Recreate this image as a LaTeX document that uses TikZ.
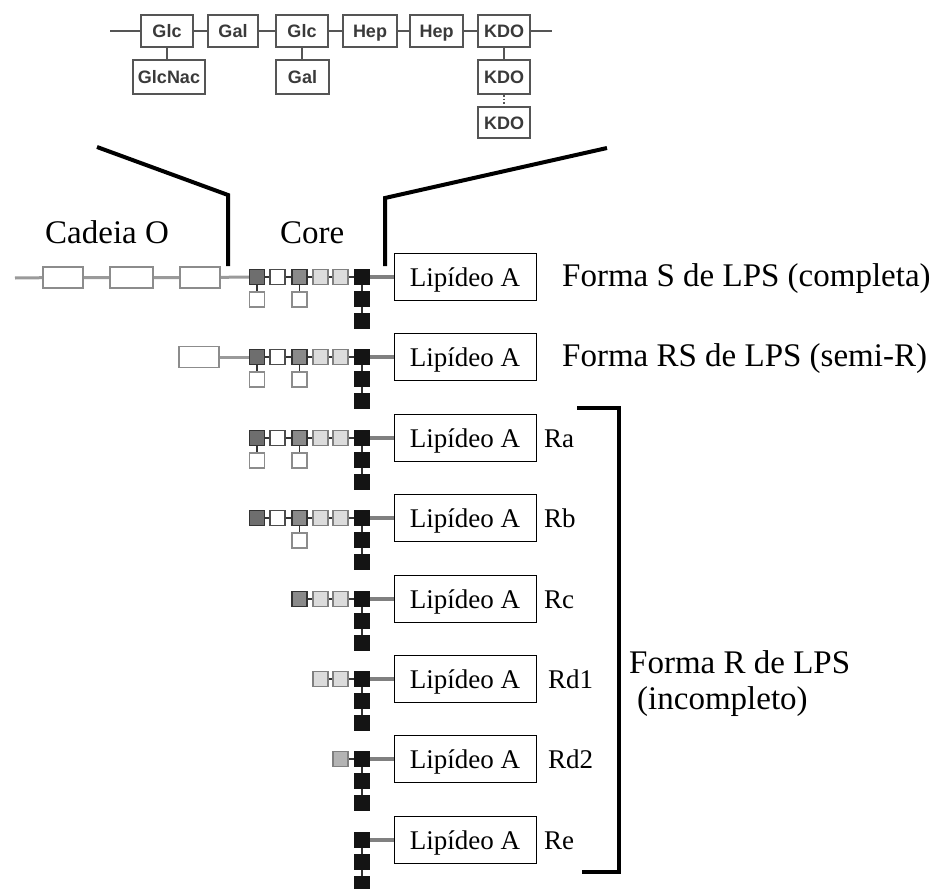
\documentclass[tikz,border=0pt]{standalone}
\usepackage{fontspec}
\setmainfont{Liberation Serif}
\newfontfamily\hsans{Liberation Sans}
\usetikzlibrary{backgrounds}
\definecolor{tgray}{HTML}{555555}
\definecolor{ttext}{HTML}{3A3A3A}
\definecolor{ogray}{HTML}{8C8C8C}
\definecolor{lgray}{HTML}{9A9A9A}
\definecolor{sqdark}{HTML}{6E6E6E}
\definecolor{sqmid}{HTML}{8A8A8A}
\definecolor{sqlight}{HTML}{DCDCDC}
\definecolor{sqlighttwo}{HTML}{B4B4B4}
\definecolor{sqblack}{HTML}{141414}
\def\sqfull{1/257/sqdark/black!80, 2/277.5/white/black!70, 3/299.5/sqmid/black!80, 4/320.5/sqlight/black!50, 5/340.5/sqlight/black!50, 6/362/sqblack/sqblack}
\def\sqc{3/299.5/sqmid/black!80, 4/320.5/sqlight/black!50, 5/340.5/sqlight/black!50, 6/362/sqblack/sqblack}
\def\sqd{4/320.5/sqlight/black!50, 5/340.5/sqlight/black!50, 6/362/sqblack/sqblack}
\def\sqdd{5/340.5/sqlighttwo/black!50, 6/362/sqblack/sqblack}
\def\sqe{6/362/sqblack/sqblack}
\newcommand\corerow[4]{%
  \foreach \i/\xx/\fc/\dc in #3{\node[sq,fill=\fc,draw=\dc] (#1s\i) at (\xx,#2) {};}
  \node[sq,fill=sqblack,draw=sqblack] (#1bone) at (362,#2+22) {};
  \node[sq,fill=sqblack,draw=sqblack] (#1btwo) at (362,#2+44) {};
  \begin{scope}[on background layer]
    \draw[clink] (#1s#4) -- (#1s6);
    \draw[clink] (#1s6) -- (#1btwo);
  \end{scope}
}
\begin{document}
\begin{tikzpicture}[x=1pt,y=-1pt,
 topbox/.style={draw=tgray,line width=1.8pt,fill=white,inner sep=0pt,minimum height=32pt,text height=13pt,text depth=0pt,font=\hsans\bfseries\fontsize{18}{18}\selectfont,text=ttext},
 topline/.style={draw=tgray,line width=1.8pt},
 bigline/.style={draw=black,line width=4pt},
 lab/.style={font=\fontsize{33}{36}\selectfont,inner sep=0pt,anchor=base west},
 rlab/.style={font=\fontsize{27}{30}\selectfont,inner sep=0pt,anchor=base west},
 lipbox/.style={draw=black,line width=0.9pt,fill=white,minimum width=142pt,minimum height=47pt,inner sep=0pt,text height=20pt,text depth=1pt,font=\fontsize{27}{30}\selectfont},
 obox/.style={draw=ogray,line width=1.8pt,fill=white,minimum width=40pt,minimum height=21pt,inner sep=0pt},
 olink/.style={draw=lgray,line width=3pt},
 sq/.style={minimum size=15pt,inner sep=0pt,line width=1.2pt},
 usq/.style={sq,fill=white,draw=ogray},
 clink/.style={draw=black!80,line width=1.3pt},
 lipl/.style={draw=black!50,line width=3.2pt},
 bracket/.style={draw=black,line width=4.5pt,line join=miter}
]
\begin{scope}[on background layer]
\fill[white] (0,0) rectangle (936,888);
\end{scope}
\useasboundingbox (0,0) rectangle (936,888);

% ---------- top structure ----------
\coordinate (tl) at (110,31);
\coordinate (tr) at (552,31);
\node[topbox,minimum width=52pt] (glc1) at (167,31) {Glc};
\node[topbox,minimum width=50pt] (gal1) at (233,31) {Gal};
\node[topbox,minimum width=52pt] (glc2) at (302,31) {Glc};
\node[topbox,minimum width=54pt] (hep1) at (370,31) {Hep};
\node[topbox,minimum width=53pt] (hep2) at (436.5,31) {Hep};
\node[topbox,minimum width=52pt] (kdo1) at (504,31) {KDO};
\node[topbox,minimum width=72pt,minimum height=34pt] (glcnac) at (169,77) {GlcNac};
\node[topbox,minimum width=53pt,minimum height=34pt] (gal2) at (302.5,77) {Gal};
\node[topbox,minimum width=52pt,minimum height=34pt] (kdo2) at (504,77) {KDO};
\node[topbox,minimum width=52pt,minimum height=31pt] (kdo3) at (504,122.5) {KDO};
\begin{scope}[on background layer]
  \draw[topline] (tl) -- (glc1) -- (gal1) -- (glc2) -- (hep1) -- (hep2) -- (kdo1) -- (tr);
  \draw[topline] (glc1) -- (glc1 |- glcnac.north);
  \draw[topline] (glc2) -- (glc2 |- gal2.north);
  \draw[topline] (kdo1) -- (kdo2);
  \draw[topline,dotted,line width=1.2pt] (kdo2) -- (kdo3);
\end{scope}

% ---------- expansion lines ----------
\coordinate (la) at (97,147);
\coordinate (lb) at (228,195);
\coordinate (lc) at (228,266);
\coordinate (ra) at (607,148);
\coordinate (rb) at (385,198);
\coordinate (rc) at (385,266);
\draw[bigline] (la) -- (lb) -- (lc);
\draw[bigline] (ra) -- (rb) -- (rc);

\node[lab] (cadeia) at (45,243) {Cadeia O};
\node[lab] (core) at (280,243) {Core};

% ---------- core rows ----------
\corerow{S}{277}{\sqfull}{1}
\corerow{RS}{357}{\sqfull}{1}
\corerow{Ra}{438}{\sqfull}{1}
\corerow{Rb}{518}{\sqfull}{1}
\corerow{Rc}{599}{\sqc}{3}
\corerow{Rdone}{679}{\sqd}{4}
\corerow{Rdtwo}{759}{\sqdd}{5}
\corerow{Re}{840}{\sqe}{6}

% squares hanging below
\node[usq] (Su1) at (257,299.5) {};
\node[usq] (Su3) at (299.5,299.5) {};
\node[usq] (RSu1) at (257,379.5) {};
\node[usq] (RSu3) at (299.5,379.5) {};
\node[usq] (Rau1) at (257,460.5) {};
\node[usq] (Rau3) at (299.5,460.5) {};
\node[usq] (Rbu3) at (299.5,540.5) {};

% O chain
\coordinate (ostart) at (15,278);
\node[obox] (o1) at (63,277.5) {};
\node[obox,minimum width=43pt] (o2) at (131.5,277.5) {};
\node[obox] (o3) at (200,277.5) {};
\node[obox] (o4) at (199,357) {};

% Lipid A boxes
\node[lipbox] (LS) at (465,277) {Lipídeo A};
\node[lipbox] (LRS) at (465,357) {Lipídeo A};
\node[lipbox] (LRa) at (465,438) {Lipídeo A};
\node[lipbox] (LRb) at (465,518) {Lipídeo A};
\node[lipbox] (LRc) at (465,599) {Lipídeo A};
\node[lipbox] (LRdone) at (465,679) {Lipídeo A};
\node[lipbox] (LRdtwo) at (465,759) {Lipídeo A};
\node[lipbox] (LRe) at (465,840) {Lipídeo A};

\begin{scope}[on background layer]
  \draw[olink] (ostart) -- (o1) -- (o2) -- (o3) -- (Ss1);
  \draw[olink] (o4) -- (RSs1);
  \draw[clink] (Ss1) -- (Su1);
  \draw[clink] (Ss3) -- (Su3);
  \draw[clink] (RSs1) -- (RSu1);
  \draw[clink] (RSs3) -- (RSu3);
  \draw[clink] (Ras1) -- (Rau1);
  \draw[clink] (Ras3) -- (Rau3);
  \draw[clink] (Rbs3) -- (Rbu3);
  \foreach \r in {S,RS,Ra,Rb,Rc,Rdone,Rdtwo,Re}{\draw[lipl] (\r s6.east) -- (L\r.west);}
\end{scope}

% labels
\node[lab] (fS) at (562,286) {Forma S de LPS (completa)};
\node[lab] (fRS) at (562,366) {Forma RS de LPS (semi-R)};
\node[rlab] (tRa) at (544,447.5) {Ra};
\node[rlab] (tRb) at (544,527.5) {Rb};
\node[rlab] (tRc) at (544,608.5) {Rc};
\node[rlab] (tRdone) at (548,688.5) {Rd1};
\node[rlab] (tRdtwo) at (548,768.5) {Rd2};
\node[rlab] (tRe) at (544,849.5) {Re};

% bracket
\coordinate (ba) at (577,408);
\coordinate (bb) at (619,408);
\coordinate (bc) at (619,872);
\coordinate (bd) at (582,872);
\draw[bracket] (ba) -- (bb) -- (bc) -- (bd);

\node[lab] (fR) at (629,673) {Forma R de LPS};
\node[lab] (fRi) at (637,709) {(incompleto)};
\end{tikzpicture}
\end{document}
